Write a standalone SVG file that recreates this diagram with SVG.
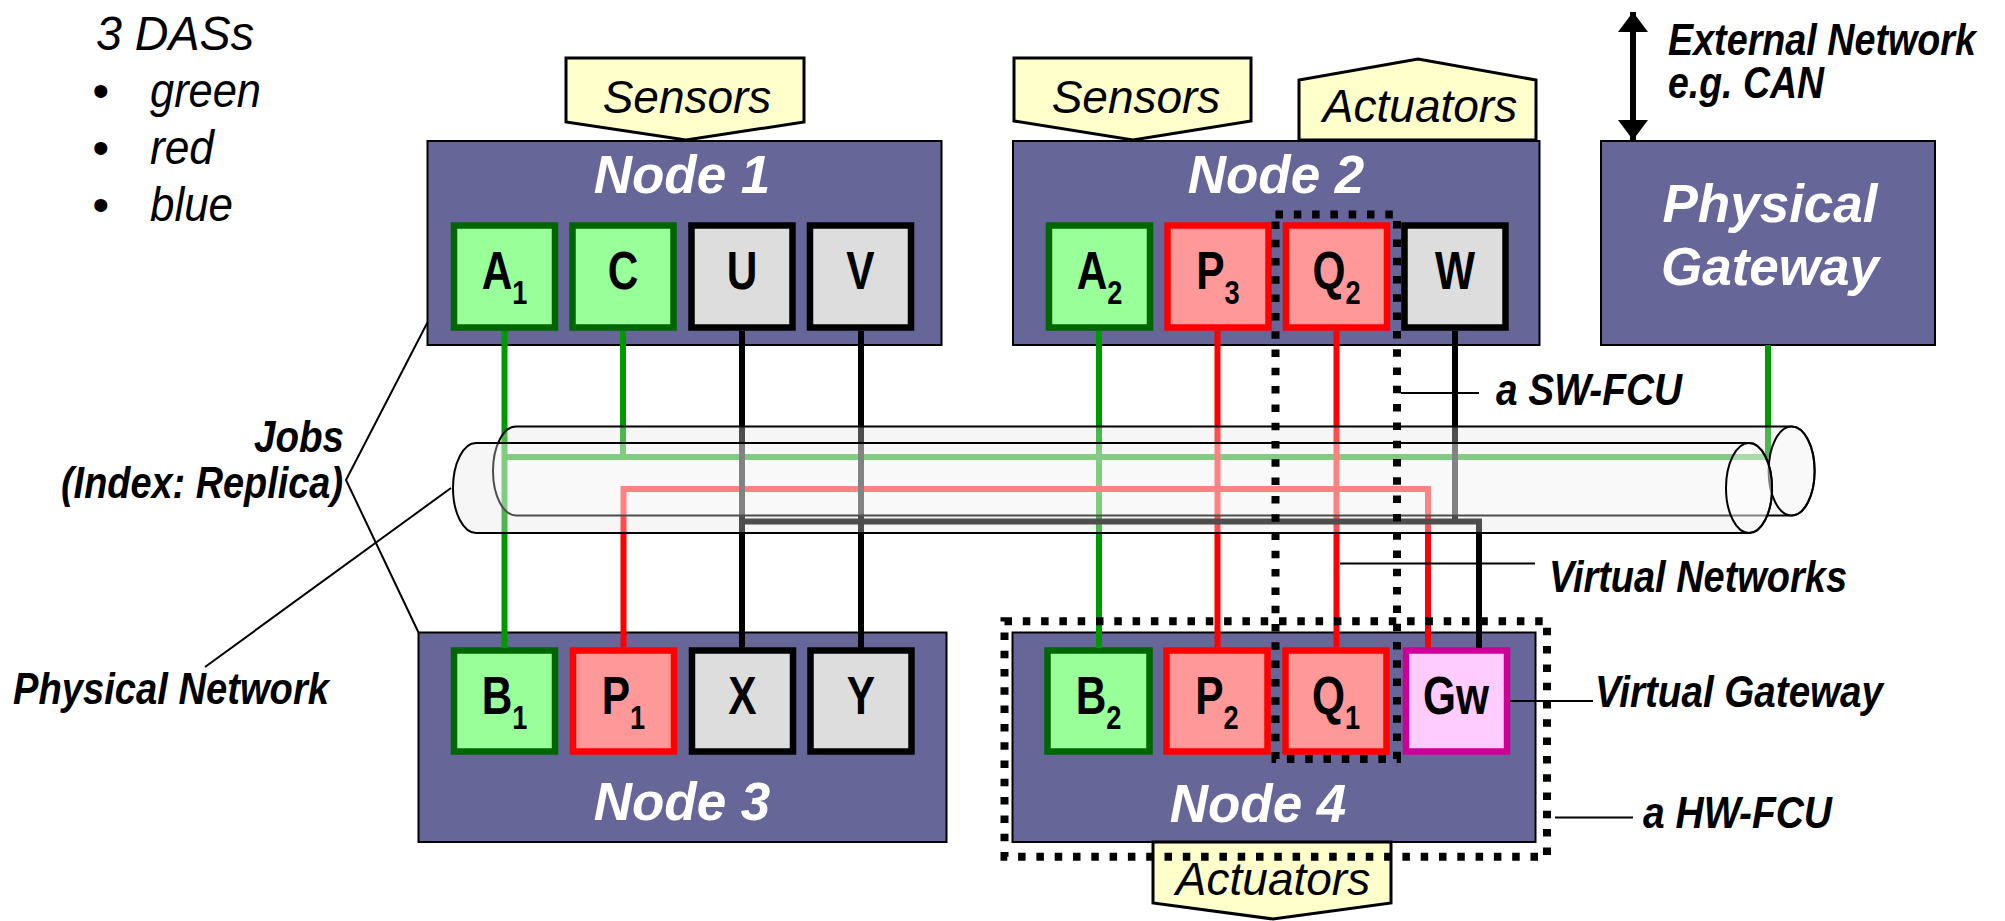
<svg xmlns="http://www.w3.org/2000/svg" width="2005" height="921" viewBox="0 0 2005 921">
  <defs>
    <style>
      .node { fill: #666699; stroke: #000; stroke-width: 2; }
      .title { font-family: "Liberation Sans", Arial, sans-serif; font-style: italic; font-weight: bold; font-size: 53px; fill: #fff; text-anchor: middle; }
      .cg { fill: #99ff99; stroke: #006600; stroke-width: 6.5; }
      .cr { fill: #ff9999; stroke: #ff0000; stroke-width: 6.5; }
      .ck { fill: #dddddd; stroke: #000; stroke-width: 6.5; }
      .cm { fill: #ffccff; stroke: #cc0099; stroke-width: 6.5; }
      .lbl { font-family: "Liberation Sans", Arial, sans-serif; font-weight: bold; font-size: 53px; fill: #000; text-anchor: middle; }
      .sub { font-size: 34px; }
      .banner { fill: #ffffcc; stroke: #000; stroke-width: 3; stroke-linejoin: miter; }
      .bt { font-family: "Liberation Sans", Arial, sans-serif; font-style: italic; font-size: 46px; fill: #000; text-anchor: middle; }
      .ann { font-family: "Liberation Sans", Arial, sans-serif; font-style: italic; font-weight: bold; font-size: 44px; fill: #000; }
      .plain { font-family: "Liberation Sans", Arial, sans-serif; font-style: italic; font-size: 48px; fill: #000; }
      .leader { fill: none; stroke: #000; stroke-width: 2; }
      .g { fill: none; stroke: #009900; stroke-width: 6; }
      .r { fill: none; stroke: #ff0000; stroke-width: 6; }
      .k { fill: none; stroke: #000; stroke-width: 6; }
      .tubebase { fill: #f2f2f2; stroke: none; }
      .tube { fill: #ffffff; fill-opacity: 0.3; stroke: #000; stroke-width: 2; }
      .fcu { fill: none; stroke: #000; stroke-width: 8; stroke-dasharray: 7.5 10.8; }
    </style>
    <marker id="head" viewBox="0 0 20 30" refX="20" refY="15" markerWidth="20" markerHeight="30" markerUnits="userSpaceOnUse" orient="auto-start-reverse">
      <path d="M0,0 L20,15 L0,30 Z" fill="#000"/>
    </marker>
  </defs>

  <!-- legend -->
  <g id="legend">
    <text class="plain" x="96" y="50" textLength="158" lengthAdjust="spacingAndGlyphs">3 DASs</text>
    <text class="plain" x="92" y="107" font-style="normal" font-size="40">•</text>
    <text class="plain" x="150" y="107" textLength="111" lengthAdjust="spacingAndGlyphs">green</text>
    <text class="plain" x="92" y="164" font-style="normal" font-size="40">•</text>
    <text class="plain" x="150" y="164" textLength="64" lengthAdjust="spacingAndGlyphs">red</text>
    <text class="plain" x="92" y="221" font-style="normal" font-size="40">•</text>
    <text class="plain" x="150" y="221" textLength="83" lengthAdjust="spacingAndGlyphs">blue</text>
  </g>

  <!-- Node 1 -->
  <g id="node1">
    <rect class="node" x="427.5" y="141" width="514" height="204"/>
    <text class="title" x="682" y="193">Node 1</text>
    <rect class="cg" x="454" y="225.5" width="101" height="102"/>
    <rect class="cg" x="572.5" y="225.5" width="101" height="102"/>
    <rect class="ck" x="691.5" y="225.5" width="101" height="102"/>
    <rect class="ck" x="810" y="225.5" width="101" height="102"/>
    <text class="lbl" transform="translate(504.5 289) scale(0.8 1)">A<tspan class="sub" dy="15">1</tspan></text>
    <text class="lbl" transform="translate(623 289) scale(0.8 1)">C</text>
    <text class="lbl" transform="translate(742 289) scale(0.8 1)">U</text>
    <text class="lbl" transform="translate(860.5 289) scale(0.8 1)">V</text>
  </g>

  <!-- Node 2 -->
  <g id="node2">
    <rect class="node" x="1013" y="141" width="526.5" height="204"/>
    <text class="title" x="1276" y="193">Node 2</text>
    <rect class="cg" x="1049" y="225.5" width="101" height="102"/>
    <rect class="cr" x="1167.5" y="225.5" width="101" height="102"/>
    <rect class="cr" x="1286" y="225.5" width="101" height="102"/>
    <rect class="ck" x="1404.5" y="225.5" width="101" height="102"/>
    <text class="lbl" transform="translate(1099.5 289) scale(0.8 1)">A<tspan class="sub" dy="15">2</tspan></text>
    <text class="lbl" transform="translate(1218 289) scale(0.8 1)">P<tspan class="sub" dy="15">3</tspan></text>
    <text class="lbl" transform="translate(1336.5 289) scale(0.8 1)">Q<tspan class="sub" dy="15">2</tspan></text>
    <text class="lbl" transform="translate(1455 289) scale(0.8 1)">W</text>
  </g>

  <!-- Physical Gateway -->
  <g id="physical-gateway">
    <rect class="node" x="1601" y="141" width="334" height="204"/>
    <text class="title" x="1770" y="222">Physical</text>
    <text class="title" x="1770" y="285">Gateway</text>
  </g>

  <!-- Node 3 -->
  <g id="node3">
    <rect class="node" x="418.5" y="632.5" width="528" height="209.5"/>
    <text class="title" x="682" y="820">Node 3</text>
    <rect class="cg" x="454" y="650.5" width="101" height="101"/>
    <rect class="cr" x="573" y="650.5" width="101" height="101"/>
    <rect class="ck" x="692" y="650.5" width="101" height="101"/>
    <rect class="ck" x="810.5" y="650.5" width="101" height="101"/>
    <text class="lbl" transform="translate(504.5 713.5) scale(0.8 1)">B<tspan class="sub" dy="15">1</tspan></text>
    <text class="lbl" transform="translate(623.5 713.5) scale(0.8 1)">P<tspan class="sub" dy="15">1</tspan></text>
    <text class="lbl" transform="translate(742.5 713.5) scale(0.8 1)">X</text>
    <text class="lbl" transform="translate(861 713.5) scale(0.8 1)">Y</text>
  </g>

  <!-- Node 4 -->
  <g id="node4">
    <rect class="node" x="1012.5" y="632.5" width="523" height="209.5"/>
    <text class="title" x="1258" y="822">Node 4</text>
    <rect class="cg" x="1047.5" y="650.5" width="102" height="101"/>
    <rect class="cr" x="1166.5" y="650.5" width="101" height="101"/>
    <rect class="cr" x="1285.5" y="650.5" width="101" height="101"/>
    <rect class="cm" x="1406" y="650.5" width="101" height="101"/>
    <text class="lbl" transform="translate(1098.5 713.5) scale(0.8 1)">B<tspan class="sub" dy="15">2</tspan></text>
    <text class="lbl" transform="translate(1217 713.5) scale(0.8 1)">P<tspan class="sub" dy="15">2</tspan></text>
    <text class="lbl" transform="translate(1336 713.5) scale(0.8 1)">Q<tspan class="sub" dy="15">1</tspan></text>
    <text class="lbl" transform="translate(1456 713.5) scale(0.8 1)">Gw</text>
  </g>

  <!-- sensor / actuator tags -->
  <g id="io-tags">
    <polygon class="banner" points="566,58 804,58 804,122 686,140 566,122"/>
    <text class="bt" x="687" y="113">Sensors</text>
    <polygon class="banner" points="1014,58 1251,58 1251,121 1133,140 1014,121"/>
    <text class="bt" x="1136" y="113">Sensors</text>
    <polygon class="banner" points="1299,140 1299,80 1418,59 1536,80 1536,140"/>
    <text class="bt" x="1420" y="122">Actuators</text>
    <polygon class="banner" points="1153,842 1391,842 1391,903 1273,919 1153,903"/>
    <text class="bt" x="1273" y="895">Actuators</text>
  </g>

  <!-- physical network: two cable tubes (body underlay) -->
  <g id="tube-base">
    <path class="tubebase" d="M516,426.5 L1791.6,426.5 A23,44.5 0 0 1 1791.6,515.5 L516,515.5 A23,44.5 0 0 1 516,426.5 Z"/>
    <path class="tubebase" d="M476,443 L1749,443 A23,45 0 0 1 1749,533 L476,533 A23,45 0 0 1 476,443 Z"/>
  </g>

  <!-- virtual networks -->
  <g id="connectors">
    <path class="g" d="M504.5,331 V648"/>
    <path class="g" d="M623,331 V457"/>
    <path class="g" d="M504.5,457 H1768"/>
    <path class="g" d="M1768,345 V457"/>
    <path class="g" d="M1099,331 V648"/>
    <path class="r" d="M623.5,648 V489 H1428 V648"/>
    <path class="r" d="M1217.5,331 V648"/>
    <path class="r" d="M1336.5,331 V648"/>
    <path class="k" d="M742,331 V648"/>
    <path class="k" d="M861,331 V648"/>
    <path class="k" d="M742,521.5 H1479 V648"/>
    <path class="k" d="M1455,331 V521.5"/>
    <line x1="1633" y1="12" x2="1633" y2="140" stroke="#000" stroke-width="6" marker-start="url(#head)" marker-end="url(#head)"/>
  </g>

  <!-- cable tubes (outline and haze over the wires) -->
  <g id="physical-network">
    <path class="tube" d="M516,426.5 L1791.6,426.5 A23,44.5 0 0 1 1791.6,515.5 L516,515.5 A23,44.5 0 0 1 516,426.5 Z"/>
    <ellipse class="tube" cx="1791.6" cy="471" rx="23" ry="44.5"/>
    <path class="tube" d="M476,443 L1749,443 A23,45 0 0 1 1749,533 L476,533 A23,45 0 0 1 476,443 Z"/>
    <ellipse class="tube" cx="1749" cy="488" rx="23" ry="45"/>
  </g>

  <!-- fault containment units -->
  <g id="fcu">
    <rect class="fcu" x="1275.5" y="214.5" width="121.5" height="544.5"/>
    <rect class="fcu" x="1004.5" y="621.3" width="542.5" height="235.4"/>
  </g>

  <!-- annotations -->
  <g id="annotations">
    <path class="leader" d="M427.7,322 L346,480 L418.5,632.5"/>
    <path class="leader" d="M205,667 L451,488"/>
    <path class="leader" d="M1401,393 H1479"/>
    <path class="leader" d="M1340,563.5 H1535"/>
    <path class="leader" d="M1510,701 H1593"/>
    <path class="leader" d="M1555,817.5 H1633"/>
    <text class="ann" x="344" y="452" text-anchor="end" textLength="90" lengthAdjust="spacingAndGlyphs">Jobs</text>
    <text class="ann" x="343" y="498" text-anchor="end" textLength="282" lengthAdjust="spacingAndGlyphs">(Index: Replica)</text>
    <text class="ann" x="13" y="704" textLength="316" lengthAdjust="spacingAndGlyphs">Physical Network</text>
    <text class="ann" x="1668" y="55" font-size="38" textLength="308" lengthAdjust="spacingAndGlyphs">External Network</text>
    <text class="ann" x="1668" y="98" font-size="38" textLength="156" lengthAdjust="spacingAndGlyphs">e.g. CAN</text>
    <text class="ann" x="1496" y="405" textLength="186" lengthAdjust="spacingAndGlyphs">a SW-FCU</text>
    <text class="ann" x="1549" y="592" textLength="298" lengthAdjust="spacingAndGlyphs">Virtual Networks</text>
    <text class="ann" x="1595" y="707" textLength="288" lengthAdjust="spacingAndGlyphs">Virtual Gateway</text>
    <text class="ann" x="1643" y="828" textLength="189" lengthAdjust="spacingAndGlyphs">a HW-FCU</text>
  </g>
</svg>
